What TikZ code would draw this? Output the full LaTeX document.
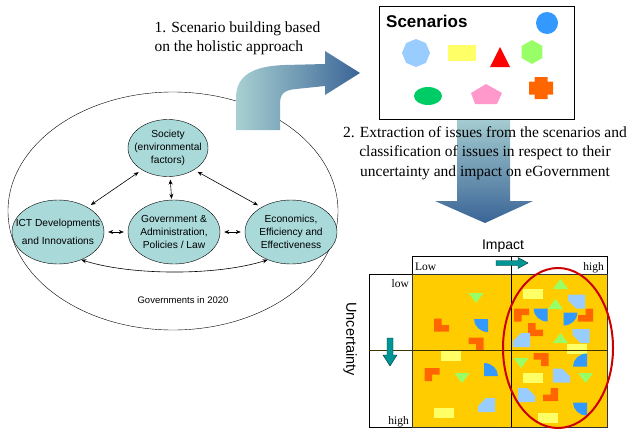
\documentclass[tikz,border=0pt]{standalone}
\usepackage{fontspec}
\setmainfont{Liberation Serif}
\setsansfont{Liberation Sans}
\usepackage{tikz}
\usetikzlibrary{positioning}
\usetikzlibrary{arrows.meta}
\usetikzlibrary{shapes.geometric}

\definecolor{ovalfill}{RGB}{170,217,217}
\definecolor{arrowlight}{RGB}{168,208,210}
\definecolor{arrowdark}{RGB}{58,100,150}
\definecolor{gridyellow}{RGB}{255,204,0}
\definecolor{issueyellow}{RGB}{255,255,102}
\definecolor{issuegreen}{RGB}{153,255,102}
\definecolor{issueorange}{RGB}{255,102,0}
\definecolor{issueblue}{RGB}{51,153,255}
\definecolor{issuelight}{RGB}{153,204,255}
\definecolor{issuepink}{RGB}{255,153,204}
\definecolor{issueemerald}{RGB}{0,204,102}
\definecolor{arrowteal}{RGB}{0,150,150}
\definecolor{ringred}{RGB}{204,0,0}

\begin{document}
\begin{tikzpicture}[
		x=1pt, y=-1pt,
		oval/.style={ellipse, draw, thin, fill=ovalfill, minimum width=92pt, minimum height=64pt, inner sep=0pt},
		ovaltext/.style={align=center, inner sep=0pt, font=\sffamily\fontsize{10.2}{12.7}\selectfont},
		link/.style={{Stealth[length=5pt,width=4pt]}-{Stealth[length=5pt,width=4pt]}, semithick, shorten <=4pt, shorten >=4pt},
		caption/.style={font=\fontsize{15.5}{19.5}\selectfont},
		small/.style={font=\fontsize{11.5}{13}\selectfont, inner sep=1pt},
		poly/.style={regular polygon, inner sep=0pt},
		tealarrow/.style={fill=arrowteal, draw=black!70!arrowteal, thin}
	]
	\useasboundingbox (0,0) rectangle (631,428);

	% Holistic approach
	\node[ellipse, draw, thin, minimum width=330pt, minimum height=238pt] (world) at (173,211) {};
	\node[oval, minimum width=80pt, minimum height=57pt] (soc) at (168,148) {};
	\node[oval] (ict) at (58,232) {};
	\node[oval] (gov) at (174,232) {};
	\node[oval] (eco) at (291,232) {};
	\node[ovaltext] (soctext) at (soc) {Society\\(environmental\\factors)};
	\node[ovaltext] (icttext) at (ict) {ICT Developments\\[5pt]and Innovations};
	\node[ovaltext] (govtext) at (gov) {Government \&\\Administration,\\Policies / Law};
	\node[ovaltext] (ecotext) at (eco) {Economics,\\Efficiency and\\Effectiveness};
	\node[font=\sffamily\fontsize{9.5}{11}\selectfont] (year) at (183,300) {Governments in 2020};

	\draw[link] (soc.220) -- (ict.40);
	\draw[link] (soc.320) -- (eco.140);
	\draw[link, shorten <=3pt, shorten >=1pt] (soc) -- (gov);
	\draw[link] (ict) -- (gov);
	\draw[link] (gov) -- (eco);
	\draw[link, shorten <=0pt, shorten >=0pt] (ict.310) .. controls +(50,16) and +(-50,16) .. (eco.230);

	% Step 1
	\shade[left color=arrowlight, right color=arrowdark] (236,130) -- (236,98) .. controls (236,76) and (252,66) .. (285,65) -- (325,64) -- (325,51) -- (360,73) -- (325,95) -- (325,86) -- (296,89) .. controls (284,90) and (280,94) .. (280,104) -- (280,130) -- cycle;
	\node[caption, align=left, anchor=north west] (step1) at (151,18) {1. Scenario building based\\on the holistic approach};

	% Step 2
	\shade[top color=arrowlight, bottom color=arrowdark] (457,115) -- (510,115) -- (510,201) -- (533,201) -- (485,223) -- (435,201) -- (457,201) -- cycle;
	\node[caption, align=center] (step2) at (485,153) {2. Extraction of issues from the scenarios and\\classification of issues in respect to their\\uncertainty and impact on eGovernment};

	% Scenarios
	\node[draw, line width=1pt, fill=white, minimum width=195pt, minimum height=112pt, inner sep=0pt] (scen) at (476.5,63) {};
	\node[anchor=west, font=\sffamily\bfseries\fontsize{17}{20}\selectfont, inner sep=0pt] (scentitle) at (386,21) {Scenarios};
	\fill[issueblue] (547,23) circle (11);
	\node[poly, regular polygon sides=8, shape border rotate=22.5, minimum size=28pt, fill=issuelight] (octa) at (416,53) {};
	\fill[issueyellow] (448,45) rectangle (476,61);
	\fill[red] (500,47) -- (510,67) -- (490,67) -- cycle;
	\node[poly, regular polygon sides=6, shape border rotate=30, minimum size=24pt, fill=issuegreen] (hexa) at (532,52) {};
	\fill[issueemerald] (428,96) ellipse [x radius=14, y radius=9];
	\fill[issuepink] (486,84) -- (502,93) -- (497,104) -- (475,104) -- (471,93) -- cycle;
	\fill[issueorange] (534.5,77) -- (547.5,77) -- (547.5,81.5) -- (553,81.5) -- (553,94.5) -- (547.5,94.5) -- (547.5,99) -- (534.5,99) -- (534.5,94.5) -- (529,94.5) -- (529,81.5) -- (534.5,81.5) -- cycle;

	% Impact / uncertainty grid
	\fill[gridyellow] (412,274) rectangle (607,427);
	\foreach \x/\y in {451/356, 444/413, 533/294, 577/348.5, 533/378, 548/418}
		\fill[issueyellow] (\x-10,\y-5) rectangle (\x+10,\y+5);
	\foreach \x/\y/\s in {476/298/1, 462/378/1, 521/363/1, 585.5/378/1, 560.5/284/-1, 555.5/304/-1, 560.5/338/-1}
		\fill[issuegreen, shift={(\x,\y)}, yscale=\s] (-7.5,-5) -- (7.5,-5) -- (0,5) -- cycle;
	\foreach \x/\y/\sx/\sy in {441.5/325/1/1, 476/344/-1/-1, 432/374.5/1/-1, 521.5/315/1/-1, 585.5/315/-1/1, 535.5/329.5/1/1, 541/359.5/-1/-1, 550.5/394.5/-1/1}
		\fill[issueorange, shift={(\x,\y)}, xscale=\sx, yscale=\sy] (-7.5,-6.5) -- (0,-6.5) -- (0,0) -- (7.5,0) -- (7.5,6.5) -- (-7.5,6.5) -- cycle;
	\foreach \x/\y/\sx/\sy in {481/325.5/1/1, 491/369.5/-1/-1, 540.5/315/1/1, 570.5/319/-1/1, 580/360/1/-1, 580/409/1/1}
		\fill[issueblue, shift={(\x,\y)}, xscale=\sx, yscale=\sy] (7,-6.5) -- (-7,-6.5) .. controls (-7,0.7) and (-0.7,6.5) .. (7,6.5) -- cycle;
	\foreach \x/\y/\sx/\sy in {486.5/405/1/1, 576.5/301.5/1/-1, 521.5/340/1/1, 581/336/1/-1, 561.5/375.5/-1/1, 526.5/395/-1/1}
		\fill[issuelight, shift={(\x,\y)}, xscale=\sx, yscale=\sy] (-0.5,-7) -- (8.5,-7) -- (8.5,7) -- (-8.5,7) -- (-8.5,1) -- cycle;

	\draw[thin] (412,256) rectangle (607,274);
	\draw[thin] (369,274) rectangle (412,427);
	\draw[thin, black!80] (412,274) rectangle (607,427);
	\draw[thin, black!75!gridyellow] (369,350) -- (607,350);
	\draw[thin] (511,256) -- (511,427);
	\draw[ringred, line width=2pt] (558,348) ellipse [x radius=55, y radius=80];

	\node[font=\sffamily\fontsize{14}{16}\selectfont] (impact) at (503,246) {Impact};
	\node[rotate=-90, font=\sffamily\fontsize{14.5}{16}\selectfont] (uncert) at (350,339) {Uncertainty};
	\node[small, anchor=base west] (implow) at (414,270) {Low};
	\node[small, anchor=base east] (imphigh) at (605,270) {high};
	\node[small, anchor=base east] (unclow) at (410,287) {low};
	\node[small, anchor=base east] (unchigh) at (410,424) {high};
	\filldraw[tealarrow] (496,260.5) -- (518,260.5) -- (518,257.5) -- (528,263) -- (518,268.5) -- (518,265.5) -- (496,265.5) -- cycle;
	\filldraw[tealarrow] (387,338) -- (393,338) -- (393,355) -- (397,355) -- (390,366) -- (383,355) -- (387,355) -- cycle;

\end{tikzpicture}
\end{document}
